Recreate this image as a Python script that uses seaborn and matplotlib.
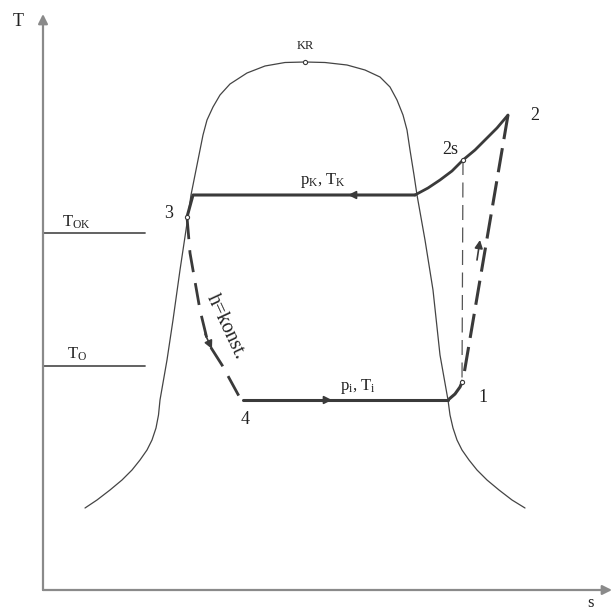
import matplotlib
matplotlib.use("Agg")
import matplotlib.pyplot as plt
import seaborn as sns

sns.set_theme(style="white")
plt.rcParams['font.family'] = ['Liberation Serif', 'DejaVu Serif']
plt.rcParams['mathtext.fontset'] = 'custom'
plt.rcParams['mathtext.rm'] = 'Liberation Serif'
plt.rcParams['mathtext.it'] = 'Liberation Serif'

# ---- data (s, T in diagram units) ----
dome_left_s = [85, 97, 110, 122, 132, 140, 147, 152, 156, 158.5, 160, 167, 173, 180, 186, 191, 195,
               200, 203, 207, 213, 220, 230, 247, 265, 285, 305]
dome_left_T = [104, 112, 122, 132, 142, 152, 162, 172, 184, 197, 212, 252, 292, 342, 382, 417, 437,
               462, 477, 492, 505, 517, 528, 539, 546, 549.5, 550]
dome_right_s = [305, 325, 347, 365, 380, 390, 397, 403, 407, 410, 414, 417, 425, 433,
                440, 448, 450, 453, 457, 462, 469, 477, 487, 499, 512, 525]
dome_right_T = [550, 549.5, 547, 542, 535, 525, 512, 497, 482, 462, 437, 417, 372, 322,
                257, 212, 197, 184, 172, 162, 152, 142, 132, 122, 112, 104]

cond_s = [415, 193, 187]
cond_T = [417, 417, 395]
superheat_s = [415, 428, 440, 452, 463, 475, 486, 497, 508]
superheat_T = [417, 424, 432, 441, 452, 462, 473, 484, 497]
comp_s = [508, 463, 460, 455, 448]
comp_T = [497, 232, 225, 218, 212]
isentropic_s = [463, 462]
isentropic_T = [452, 230]
exp_s = [187, 190, 200, 208, 222, 240, 243]
exp_T = [395, 359, 302, 269, 247, 214, 212]
evap_s = [243, 448]
evap_T = [212, 212]

tok_s = [43, 145]
tok_T = [379, 379]
to_s = [43, 145]
to_T = [246, 246]

axis_origin = (43, 22)
s_axis_end = 612
T_axis_end = 598

kr_point = (305, 550)
points = {"KR": (305, 566), "2": (535, 497), "2s": (450, 462), "1": (483, 214),
          "3": (169, 399), "4": (245, 192)}

fig = plt.figure(figsize=(6.16, 6.12), dpi=100)
ax = fig.add_axes([0, 0, 1, 1])
ax.set_xlim(0, 616)
ax.set_ylim(0, 612)
ax.axis('off')

dark = '#3a3a3a'

def line(xs, ys, lw, color=dark, ls='-'):
    sns.lineplot(x=xs, y=ys, sort=False, estimator=None, ax=ax,
                 color=color, linewidth=lw, linestyle=ls)

# axes
ax.annotate('', xy=(s_axis_end, axis_origin[1]), xytext=axis_origin,
            arrowprops=dict(arrowstyle='-|>', color='#8a8a8a', lw=1.6,
                            mutation_scale=14, shrinkA=0, shrinkB=0))
ax.annotate('', xy=(axis_origin[0], T_axis_end), xytext=axis_origin,
            arrowprops=dict(arrowstyle='-|>', color='#8a8a8a', lw=1.6,
                            mutation_scale=14, shrinkA=0, shrinkB=0))

# dome
line(dome_left_s, dome_left_T, 0.9, '#444444')
line(dome_right_s, dome_right_T, 0.9, '#444444')

# reference temperature lines
line(tok_s, tok_T, 1.3, '#555555')
line(to_s, to_T, 1.3, '#555555')

# cycle
line(cond_s, cond_T, 2.2)
line(superheat_s, superheat_T, 2.0)
line(comp_s, comp_T, 2.2, ls=(0, (8, 3)))
line(isentropic_s, isentropic_T, 0.9, '#555555', ls=(0, (12, 6)))
line(exp_s, exp_T, 2.0, ls=(0, (8, 4)))
line(evap_s, evap_T, 2.2)

# direction arrows
arr = dict(arrowstyle='-|>', color=dark, lw=1.2, mutation_scale=12, shrinkA=0, shrinkB=0)
ax.annotate('', xy=(348, cond_T[0]), xytext=(362, cond_T[0]), arrowprops=arr)
ax.annotate('', xy=(332, evap_T[0]), xytext=(318, evap_T[0]), arrowprops=arr)
ax.annotate('', xy=(480, 372), xytext=(477, 352), arrowprops=arr)
ax.annotate('', xy=(212, 263), xytext=(205, 278), arrowprops=arr)

# small point markers
for (ps, pT) in [kr_point, (463, 452), (462, 230), (187, 395)]:
    ax.plot(ps, pT, marker='o', ms=3, mfc='white', mec=dark, mew=0.8)

# labels
ax.text(18, 590, 'T', fontsize=13, ha='center', va='center', color='#222222')
ax.text(590, 9, 's', fontsize=12, ha='center', va='center', color='#222222')
ax.text(*points["KR"], 'KR', fontsize=9, ha='center', va='center', color='#222222')
for key in ["2", "2s", "1", "3", "4"]:
    ax.text(*points[key], key, fontsize=13, ha='center', va='center', color='#222222')
ax.text(323, 432, r'p$_{\mathrm{K}}$, T$_{\mathrm{K}}$', fontsize=12, ha='center', va='center', color='#222222')
ax.text(358, 226, r'p$_{\mathrm{i}}$, T$_{\mathrm{i}}$', fontsize=12, ha='center', va='center', color='#222222')
ax.text(76, 390, r'T$_{\mathrm{OK}}$', fontsize=12, ha='center', va='center', color='#222222')
ax.text(77, 258, r'T$_{\mathrm{O}}$', fontsize=12, ha='center', va='center', color='#222222')
ax.text(226, 285, 'h=konst.', fontsize=14.5, ha='center', va='center', rotation=-65,
        rotation_mode='anchor', color='#222222')

fig.savefig('out.png', dpi=100, facecolor='white')
